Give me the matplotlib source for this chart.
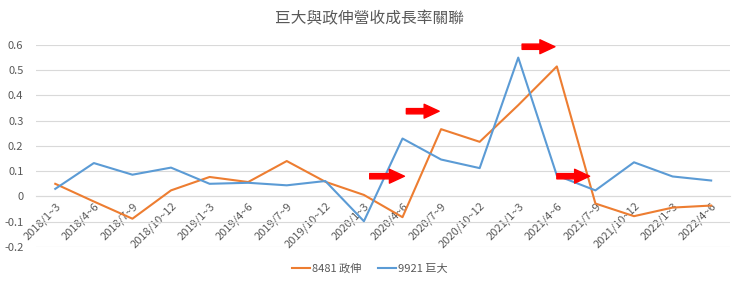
import matplotlib.pyplot as plt
from matplotlib.ticker import FuncFormatter

plt.rcParams['font.family'] = ['Noto Sans CJK TC', 'DejaVu Sans']

quarters = ['2018/1~3', '2018/4~6', '2018/7~9', '2018/10~12',
            '2019/1~3', '2019/4~6', '2019/7~9', '2019/10~12',
            '2020/1~3', '2020/4~6', '2020/7~9', '2020/10~12',
            '2021/1~3', '2021/4~6', '2021/7~9', '2021/10~12',
            '2022/1~3', '2022/4~6']
s8481 = [0.050, -0.020, -0.088, 0.024, 0.077, 0.057, 0.140, 0.058, 0.006,
         -0.082, 0.266, 0.216, 0.361, 0.514, -0.028, -0.078, -0.044, -0.036]
s9921 = [0.030, 0.132, 0.086, 0.114, 0.050, 0.054, 0.044, 0.061, -0.098,
         0.229, 0.146, 0.112, 0.549, 0.083, 0.024, 0.135, 0.079, 0.063]
labels = ['8481 政伸', '9921 巨大']
title = '巨大與政伸營收成長率關聯'

# red arrows: (x start, x end, y) in category index / value units
arrows = [(8.15, 9.05, 0.08), (9.1, 9.95, 0.337),
          (12.1, 12.95, 0.592), (13.0, 13.85, 0.08)]

gray = '#595959'
fig = plt.figure(figsize=(7.4, 2.82), dpi=100)
ax = fig.add_axes([0.0486, 0.124, 0.9385, 0.7175])

x = list(range(len(quarters)))
ax.plot(x, s8481, color='#ED7D31', lw=1.5, label=labels[0], zorder=3)
ax.plot(x, s9921, color='#5B9BD5', lw=1.5, label=labels[1], zorder=3)

for x0, x1, y in arrows:
    ax.annotate('', xy=(x1, y), xytext=(x0, y),
                arrowprops=dict(arrowstyle='simple,head_length=1.08,head_width=1.0,tail_width=0.38',
                                color='red', mutation_scale=10, shrinkA=0, shrinkB=0),
                zorder=4)

ax.set_xlim(-0.5, len(quarters) - 0.5)
ax.set_ylim(-0.2, 0.6)
ax.set_yticks([-0.2, -0.1, 0, 0.1, 0.2, 0.3, 0.4, 0.5, 0.6])
ax.yaxis.set_major_formatter(FuncFormatter(lambda v, p: '0' if abs(v) < 1e-9 else f'{v:.1f}'))
ax.grid(axis='y', color='#D9D9D9', lw=0.8)
ax.set_axisbelow(True)

for s in ['top', 'right', 'left']:
    ax.spines[s].set_visible(False)
ax.spines['bottom'].set_position(('data', 0))
ax.spines['bottom'].set_color('#D9D9D9')
ax.spines['bottom'].set_linewidth(0.8)

ax.set_xticks(x)
ax.set_xticklabels(quarters, rotation=45, ha='right', va='top', rotation_mode='anchor')
ax.tick_params(axis='x', length=0, pad=3, labelsize=8, labelcolor=gray)
ax.tick_params(axis='y', length=0, pad=9, labelsize=8, labelcolor=gray)

fig.text(0.5, 0.935, title, ha='center', va='center', fontsize=11.3, color=gray)
fig.legend(loc='center', bbox_to_anchor=(0.5, 0.048), ncol=2, frameon=False,
           fontsize=8, handlelength=1.6, handletextpad=0.2, columnspacing=1.5,
           labelcolor=gray)

fig.savefig('out.png', dpi=100)
